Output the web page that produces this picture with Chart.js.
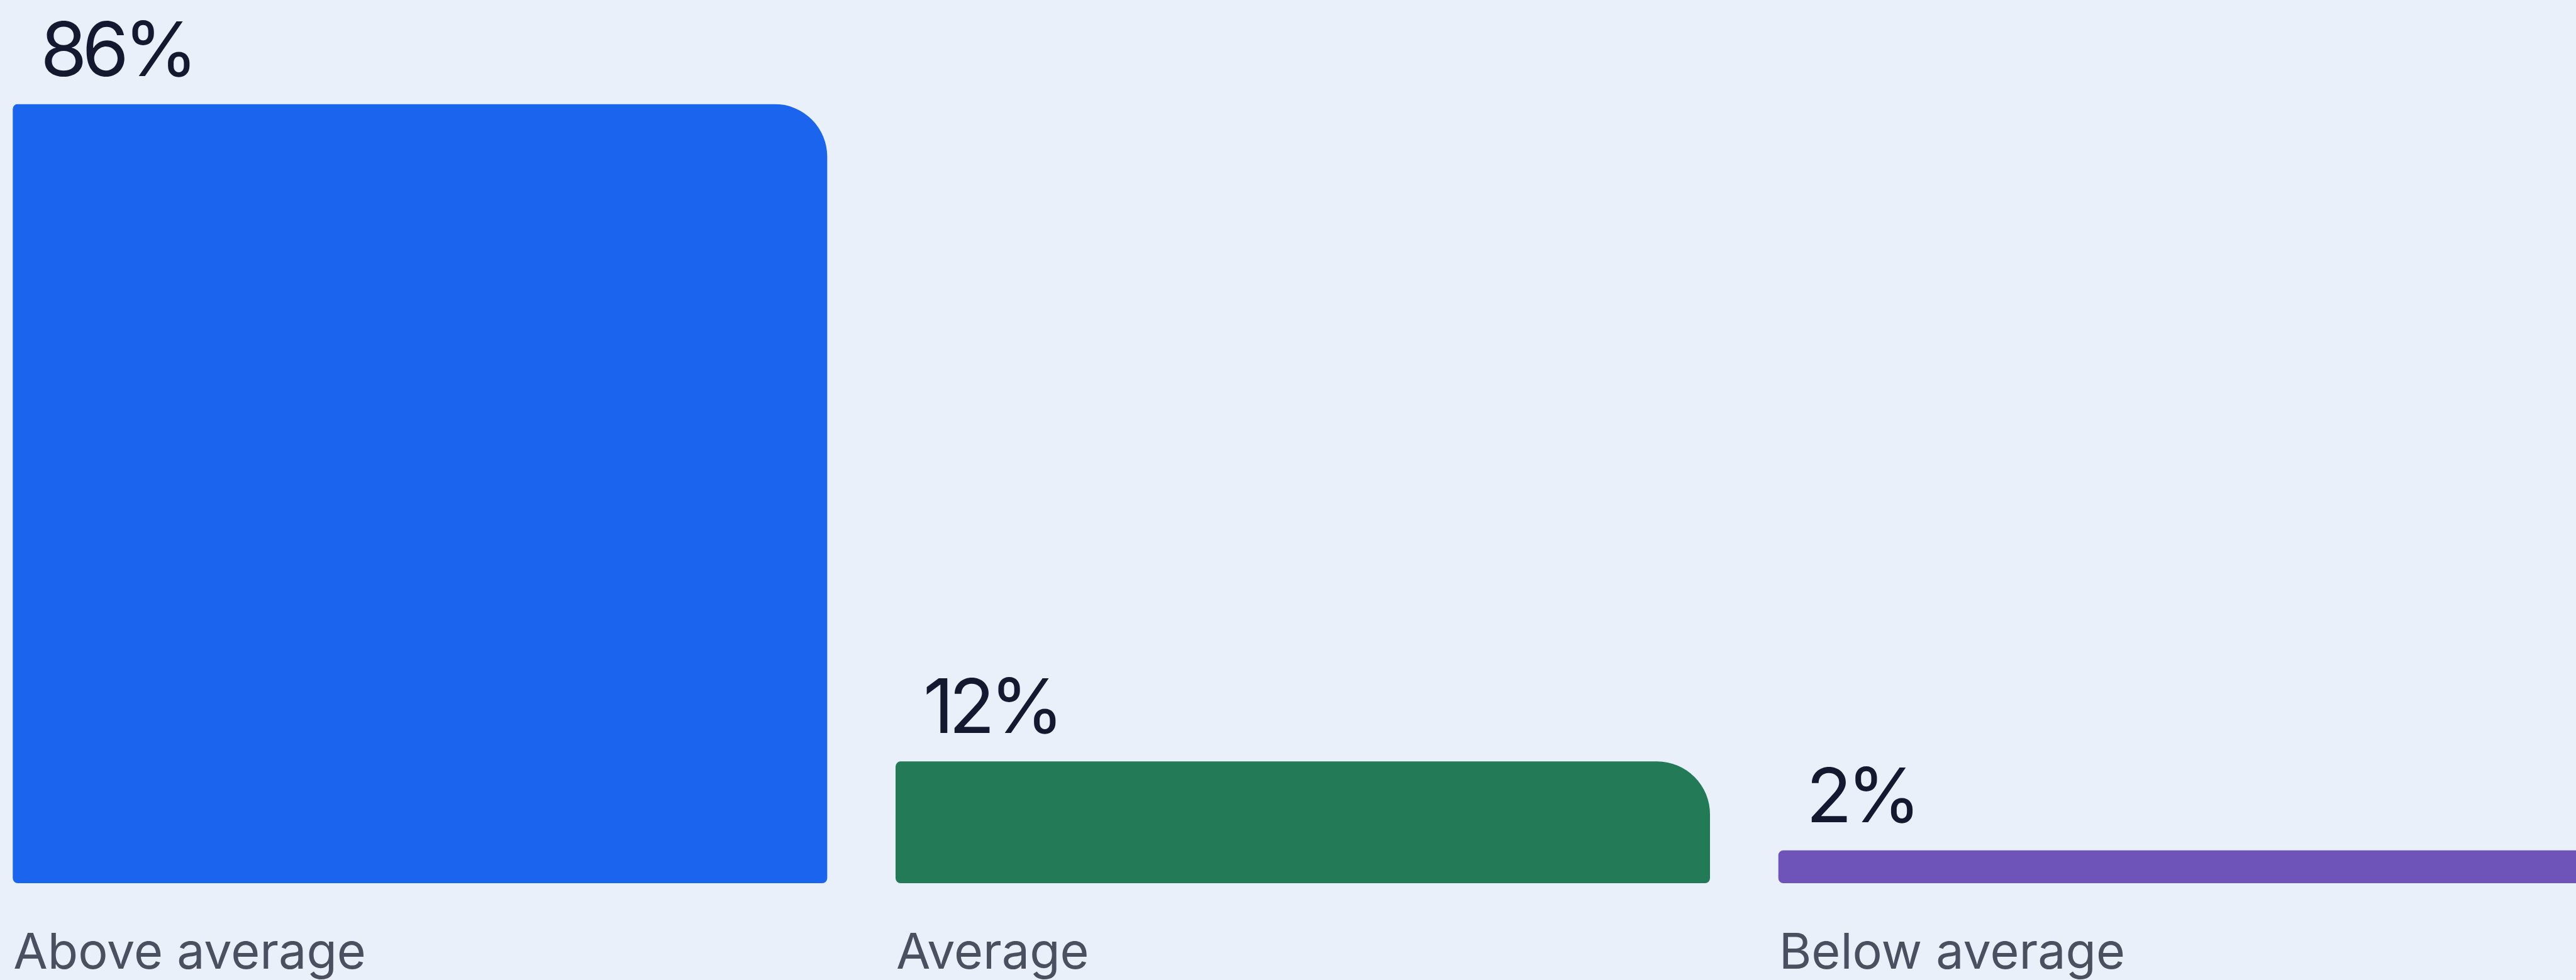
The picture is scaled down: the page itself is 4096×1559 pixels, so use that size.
<!DOCTYPE html>
<html>
<head>
<meta charset="utf-8">
<script src="https://cdn.jsdelivr.net/npm/chart.js@4/dist/chart.umd.min.js"></script>
<style>
  html, body { margin: 0; padding: 0; background: #eaf0f9; overflow: hidden; }
  #wrap { position: relative; width: 4096px; height: 1559px; overflow: hidden; }
  #chart { position: absolute; left: -34px; top: 0; }
</style>
</head>
<body>
<div id="wrap"><canvas id="chart" width="4211" height="1559"></canvas></div>
<script>
// данные графика
const categories = ['Above average', 'Average', 'Below average'];
const values = [86, 12, 2];
const valueLabels = ['86%', '12%', '2%'];
const barColors = ['#1a64ee', '#237a56', '#6e54b9'];

// подписи над столбцами и под ними
const labelsPlugin = {
  id: 'barLabels',
  afterDatasetsDraw(chart) {
    const ctx = chart.ctx;
    const meta = chart.getDatasetMeta(0);
    ctx.save();
    meta.data.forEach((bar, i) => {
      const left = bar.x - bar.width / 2;
      ctx.textAlign = 'left';
      ctx.textBaseline = 'alphabetic';
      ctx.fillStyle = '#15192f';
      ctx.font = '400 120px Inter';
      ctx.letterSpacing = '-8px';
      ctx.fillText(valueLabels[i], left + 44, bar.y - 45);
      ctx.fillStyle = '#4b5061';
      ctx.font = '400 79px Inter';
      ctx.letterSpacing = '0px';
      ctx.fillText(categories[i], left + 1, 1541);
    });
    ctx.restore();
  }
};

new Chart(document.getElementById('chart'), {
  type: 'bar',
  data: {
    labels: categories,
    datasets: [{
      data: values,
      backgroundColor: barColors,
      borderWidth: 0,
      borderSkipped: false,
      borderRadius: { topLeft: 8, topRight: 84, bottomLeft: 8, bottomRight: 8 },
      base: -1.7,
      categoryPercentage: 1,
      barPercentage: 0.9226
    }]
  },
  options: {
    responsive: false,
    animation: false,
    layout: { padding: { top: 165.5, bottom: 154, left: 0, right: 0 } },
    plugins: { legend: { display: false }, tooltip: { enabled: false } },
    scales: {
      x: { display: false, offset: true },
      y: { display: false, min: -1.7, max: 86 }
    }
  },
  plugins: [labelsPlugin]
});
</script>
</body>
</html>
